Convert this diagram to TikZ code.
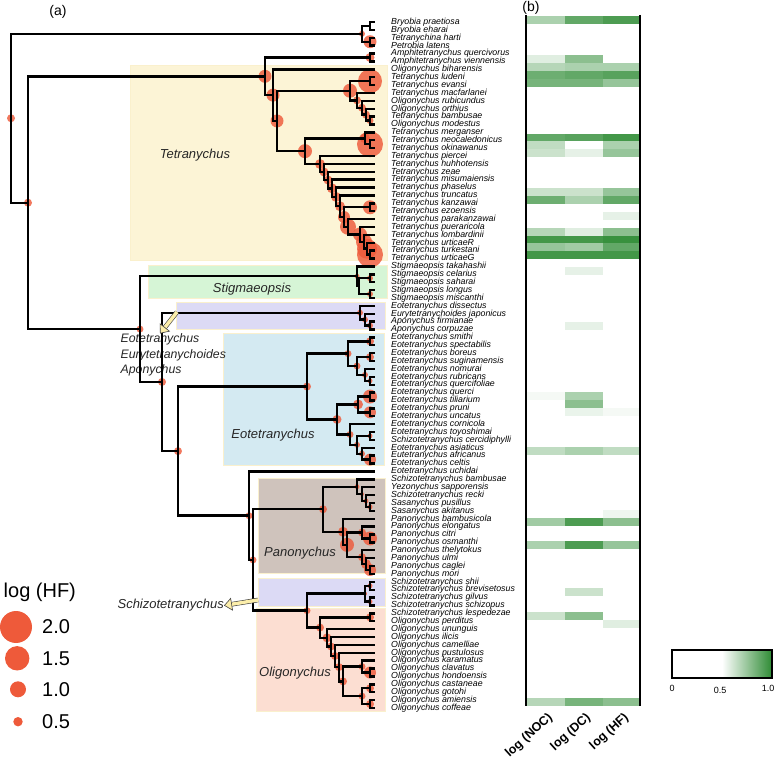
\documentclass[tikz,border=0pt]{standalone}
\usepackage{fontspec}
\setmainfont{Liberation Sans}
\usetikzlibrary{calc,arrows.meta}
\pgfdeclarelayer{bands}
\pgfdeclarelayer{dots}
\pgfsetlayers{bands,dots,main}

\definecolor{hmgreen}{RGB}{46,139,52}
\definecolor{ancred}{RGB}{238,90,58}
\definecolor{tetcol}{RGB}{252,244,214}
\definecolor{stgcol}{RGB}{214,245,214}
\definecolor{lavcol}{RGB}{220,218,245}
\definecolor{eocol}{RGB}{212,234,242}
\definecolor{pancol}{RGB}{207,195,188}
\definecolor{olicol}{RGB}{252,222,210}
\definecolor{bandedge}{RGB}{250,240,205}
\definecolor{calloutfill}{RGB}{252,238,170}

\tikzset{
  branch/.style={line width=2.4pt},
  anc/.style={fill=ancred, fill opacity=0.82},
  band/.style={draw=bandedge, line width=1pt},
  tiplab/.style={anchor=west, inner sep=0pt, font=\fontsize{8.8}{9}\selectfont\itshape},
  grouplab/.style={inner sep=0pt, font=\fontsize{13}{15}\selectfont\itshape, text=black!85},
  sidelab/.style={anchor=west, inner sep=0pt, font=\fontsize{12.3}{14}\selectfont\itshape, text=black!85},
  collab/.style={anchor=east, rotate=42, inner sep=0pt, font=\fontsize{12.5}{14}\selectfont\bfseries},
  leglab/.style={anchor=west, inner sep=0pt, font=\fontsize{20}{22}\selectfont},
  barlab/.style={inner sep=0pt, font=\fontsize{9}{10}\selectfont},
  callout/.style={line width=0.6pt, draw=black!75, double=calloutfill, double distance=3.4pt,
    -{Triangle[open, length=8pt, width=13pt, fill=calloutfill]}}
}

% clade: name, x, upper child, lower child, radius of the ancestral dot
\newcommand{\clade}[5]{%
  \path let \p1=(#3), \p2=(#4) in (#2pt,{0.5*\y1+0.5*\y2}) coordinate (#1);
  \ifdim #5pt>0pt
    \begin{pgfonlayer}{dots}\fill[anc] (#1) circle[radius=#5pt];\end{pgfonlayer}
  \fi
  \draw[branch] (#1) |- (#3) (#1) |- (#4);}

\begin{document}
\begin{tikzpicture}[x=1pt, y=-1pt]
\useasboundingbox (0,0) rectangle (777,767);

\node [font=\fontsize{14}{16}\selectfont] (pa) at (58,12) {(a)};
\node [font=\fontsize{14}{16}\selectfont] (pb) at (531,8) {(b)};

\begin{pgfonlayer}{bands}
  \fill[band, fill=tetcol] (130,65.5) rectangle (387,261);
  \fill[band, fill=stgcol] (148,266) rectangle (387,298.5);
  \fill[band, fill=lavcol] (176,302.5) rectangle (385,330);
  \fill[band, fill=eocol] (223,333.5) rectangle (384,465);
  \fill[band, fill=pancol] (258,478) rectangle (385,573.5);
  \fill[band, fill=lavcol] (258,578) rectangle (385,606.5);
  \fill[band, fill=olicol] (256,608.5) rectangle (385,711.5);
\end{pgfonlayer}

\node [grouplab] (gtet) at (195,155) {Tetranychus};
\node [grouplab] (gstg) at (252,289) {Stigmaeopsis};
\node [grouplab] (geot) at (273,435) {Eotetranychus};
\node [grouplab] (gpan) at (300,553) {Panonychus};
\node [grouplab] (goli) at (295,673) {Oligonychus};
\node [sidelab] (seot) at (120.5,339.5) {Eotetranychus};
\node [sidelab] (seur) at (120.5,355) {Eurytetranychoides};
\node [sidelab] (sapo) at (120.5,370.5) {Aponychus};
\node [grouplab, anchor=east] (ssch) at (224,605.5) {Schizotetranychus};

\foreach \sp [count=\i] in {Bryobia praetiosa, Bryobia eharai, Tetranychina harti, Petrobia latens,
  Amphitetranychus quercivorus, Amphitetranychus viennensis, Oligonychus biharensis,
  Tetranychus ludeni, Tetranychus evansi, Tetranychus macfarlanei, Oligonychus rubicundus,
  Oligonychus orthius, Tetranychus bambusae, Oligonychus modestus, Tetranychus merganser,
  Tetranychus neocaledonicus, Tetranychus okinawanus, Tetranychus piercei, Tetranychus huhhotensis,
  Tetranychus zeae, Tetranychus misumaiensis, Tetranychus phaselus, Tetranychus truncatus,
  Tetranychus kanzawai, Tetranychus ezoensis, Tetranychus parakanzawai, Tetranychus pueraricola,
  Tetranychus lombardinii, Tetranychus urticaeR, Tetranychus turkestani, Tetranychus urticaeG,
  Stigmaeopsis takahashii, Stigmaeopsis celarius, Stigmaeopsis saharai, Stigmaeopsis longus,
  Stigmaeopsis miscanthi, Eotetranychus dissectus, Eurytetranychoides japonicus,
  Aponychus firmianae, Aponychus corpuzae, Eotetranychus smithi, Eotetranychus spectabilis,
  Eotetranychus boreus, Eotetranychus suginamensis, Eotetranychus nomurai, Eotetranychus rubricans,
  Eotetranychus quercifoliae, Eotetranychus querci, Eotetranychus tiliarium, Eotetranychus pruni,
  Eotetranychus uncatus, Eotetranychus cornicola, Eotetranychus toyoshimai,
  Schizotetranychus cercidiphylli, Eotetranychus asiaticus, Eutetranychus africanus,
  Eotetranychus celtis, Eotetranychus uchidai, Schizotetranychus bambusae, Yezonychus sapporensis,
  Schizotetranychus recki, Sasanychus pusillus, Sasanychus akitanus, Panonychus bambusicola,
  Panonychus elongatus, Panonychus citri, Panonychus osmanthi, Panonychus thelytokus,
  Panonychus ulmi, Panonychus caglei, Panonychus mori, Schizotetranychus shii,
  Schizotetranychus brevisetosus, Schizotetranychus gilvus, Schizotetranychus schizopus,
  Schizotetranychus lespedezae, Oligonychus perditus, Oligonychus ununguis, Oligonychus ilicis,
  Oligonychus camelliae, Oligonychus pustulosus, Oligonychus karamatus, Oligonychus clavatus,
  Oligonychus hondoensis, Oligonychus castaneae, Oligonychus gotohi, Oligonychus amiensis,
  Oligonychus coffeae}
{
  \node [tiplab] (lab\i) at (391,{22+(\i-1)*7.885}) {\sp};
  \coordinate (s\i) at (375,{22+(\i-1)*7.885});
}

\clade{bry12}{370}{s1}{s2}{0}
\clade{bry34}{370}{s3}{s4}{6.5}
\clade{bry}{362}{bry12}{bry34}{3}
\clade{amph}{370}{s5}{s6}{4.5}
\clade{lude}{370}{s8}{s9}{12}
\clade{lad4}{370}{s13}{s14}{3.5}
\clade{lad3}{366}{s12}{lad4}{4}
\clade{lad2}{362}{s11}{lad3}{4}
\clade{lad1}{357}{s10}{lad2}{4}
\clade{tetA}{350}{lude}{lad1}{7}
\clade{merg2}{370}{s16}{s17}{13}
\clade{merg}{365}{s15}{merg2}{5}
\clade{kanz}{370}{s24}{s25}{7}
\clade{urt4}{370}{s30}{s31}{13}
\clade{urt3}{367}{s29}{urt4}{10}
\clade{urt2}{364}{s28}{urt3}{8}
\clade{urt1}{360}{s27}{urt2}{7}
\clade{cat7}{348}{s26}{urt1}{8}
\clade{cat6}{344}{kanz}{cat7}{6}
\clade{cat5}{340}{s23}{cat6}{5}
\clade{cat4}{336}{s22}{cat5}{5}
\clade{cat3}{332}{s21}{cat4}{5}
\clade{cat2}{328}{s20}{cat3}{4.5}
\clade{cat1}{324}{s19}{cat2}{4.5}
\clade{cat0}{320}{s18}{cat1}{5}
\clade{tetB}{305}{merg}{cat0}{7}
\clade{tetC}{277}{tetA}{tetB}{6.5}
\clade{tetD}{273}{s7}{tetC}{6.5}
\clade{tetE}{265}{amph}{tetD}{6.5}

\clade{stg1}{370}{s33}{s34}{3}
\clade{stg2}{370}{s35}{s36}{3}
\clade{stg3}{359}{stg1}{stg2}{0}
\clade{stg}{357}{s32}{stg3}{2.5}

\clade{apo}{370}{s39}{s40}{3}
\clade{eury2}{365}{s38}{apo}{3}
\clade{eury}{360}{s37}{eury2}{3}

\clade{eoA}{370}{s41}{s42}{4}
\clade{eoB}{370}{s43}{s44}{4}
\clade{eoC}{370}{s46}{s47}{2.5}
\clade{eoD}{365}{s45}{eoC}{3}
\clade{eoE}{357}{eoB}{eoD}{3.5}
\clade{eoF}{348}{eoA}{eoE}{3.5}
\clade{eoG}{370}{s48}{s49}{7}
\clade{eoH}{370}{s50}{s51}{6}
\clade{eoI}{358}{eoG}{eoH}{5}
\clade{eoJ}{370}{s53}{s54}{2.5}
\clade{eoK}{370}{s56}{s57}{6}
\clade{eoL}{362}{s55}{eoK}{3}
\clade{eoM}{357}{eoJ}{eoL}{3}
\clade{eoN}{350}{s52}{eoM}{3.5}
\clade{eoO}{337}{eoI}{eoN}{4.5}
\clade{eo}{307}{eoF}{eoO}{4}

\clade{sasa}{370}{s62}{s63}{2.5}
\clade{pnA}{366}{s61}{sasa}{2.5}
\clade{pnB}{362}{s60}{pnA}{2}
\clade{pnC}{357}{s59}{pnB}{2.5}
\clade{pnD}{370}{s66}{s67}{7}
\clade{pnE}{362}{s65}{pnD}{4}
\clade{pnF}{370}{s70}{s71}{6}
\clade{pnG}{366}{s69}{pnF}{5}
\clade{pnH}{362}{s68}{pnG}{4}
\clade{pnI}{347}{pnE}{pnH}{7}
\clade{pnJ}{343}{s64}{pnI}{5}
\clade{pn}{323}{pnC}{pnJ}{4}

\clade{scA}{370}{s72}{s73}{2.5}
\clade{scB}{370}{s74}{s75}{2.5}
\clade{sc}{365}{scA}{scB}{2}
\clade{olA}{370}{s76}{s77}{4}
\clade{olB}{370}{s83}{s84}{6}
\clade{olC}{362}{s82}{olB}{3.5}
\clade{olD}{370}{s85}{s86}{4}
\clade{olE}{370}{s87}{s88}{4}
\clade{olF}{362}{olD}{olE}{3.5}
\clade{olG}{343}{olC}{olF}{4}
\clade{olH}{339}{s81}{olG}{4}
\clade{olI}{335}{s80}{olH}{4}
\clade{olJ}{331}{s79}{olI}{4}
\clade{olK}{327}{s78}{olJ}{4.5}
\clade{ol}{320}{olA}{olK}{4}
\clade{scol}{307}{sc}{ol}{3.5}

\clade{pnsc}{253}{pn}{scol}{3.5}
\clade{uch}{249}{s58}{pnsc}{3.5}
\clade{eouch}{178}{eo}{uch}{4}
\clade{eurq}{162}{eury}{eouch}{4}
\clade{stgq}{140}{stg}{eurq}{3.5}
\clade{tetr}{28}{tetE}{stgq}{4}
\clade{root}{11}{bry}{tetr}{4}

\coordinate (ar1) at (177,312);
\coordinate (ar2) at (258,600);
\draw [callout] (ar1) -- (seot.north);
\draw [callout] (ar2) -- (ssch.east);

\foreach \r/\a/\b/\c in {1/40/75/85, 6/15/55/0, 7/35/40/40, 8/70/75/80, 9/65/65/50,
  16/75/80/90, 17/30/0/40, 18/25/12/50, 23/25/25/50, 24/70/40/75, 26/0/0/12,
  28/35/15/55, 29/90/90/95, 30/50/45/75, 31/90/90/90, 33/0/12/0, 40/0/12/0,
  49/5/40/0, 50/0/55/0, 51/0/10/5, 56/30/40/30, 64/0/0/8, 65/45/85/55,
  68/40/85/50, 74/0/25/0, 77/25/55/0, 78/0/0/15, 88/35/65/55}
{
  \fill[hmgreen!\a] (527,{16+(\r-1)*7.84}) rectangle ++(38,7.84);
  \fill[hmgreen!\b] (565,{16+(\r-1)*7.84}) rectangle ++(37.5,7.84);
  \fill[hmgreen!\c] (602.5,{16+(\r-1)*7.84}) rectangle ++(37.5,7.84);
}
\coordinate (hmtl) at (526,15);
\coordinate (hmbl) at (526,706);
\coordinate (hmtr) at (640,15);
\coordinate (hmbr) at (640,706);
\draw [line width=2.2pt] (hmtl) -- (hmbl);
\draw [line width=2.2pt] (hmtr) -- (hmbr);

\node [collab] (cnoc) at (551,716) {log (NOC)};
\node [collab] (cdc) at (589,716) {log (DC)};
\node [collab] (chf) at (627,716) {log (HF)};

\fill [white] (672,650) rectangle (722,678);
\shade [left color=white, right color=hmgreen] (722,650) rectangle (772,678);
\draw [line width=1.6pt] (672,650) rectangle (772,678);
\node [barlab] (b0) at (672,688) {0};
\node [barlab] (b5) at (720,690) {0.5};
\node [barlab] (b10) at (768,688) {1.0};

\node [leglab] (legt) at (3.5,592) {log (HF)};
\fill [ancred] (16,627) circle[radius=16pt];
\fill [ancred] (17.2,658.3) circle[radius=12.2pt];
\fill [ancred] (18,689.3) circle[radius=8pt];
\fill [ancred] (18,721.7) circle[radius=4.7pt];
\node [leglab] (l20) at (42,627) {2.0};
\node [leglab] (l15) at (42,658.3) {1.5};
\node [leglab] (l10) at (42,689.3) {1.0};
\node [leglab] (l05) at (42,721.7) {0.5};
\end{tikzpicture}
\end{document}
